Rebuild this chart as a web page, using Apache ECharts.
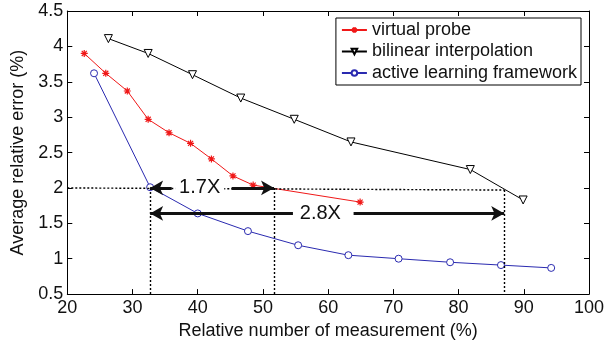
<!DOCTYPE html>
<html><head><meta charset="utf-8">
<script src="https://cdn.jsdelivr.net/npm/echarts@6/dist/echarts.min.js"></script>
<style>html,body{margin:0;padding:0;background:#fff}#c{width:613px;height:345px}</style>
</head><body><div id="c"></div>
<script>
const xTicks = [20,30,40,50,60,70,80,90,100];
const yTicks = [0.5,1,1.5,2,2.5,3,3.5,4,4.5];
const seriesNames = ['virtual probe','bilinear interpolation','active learning framework'];
const vpX = [22.6,25.9,29.2,32.4,35.6,38.9,42.1,45.4,48.5,64.9];
const vpY = [3.90,3.62,3.37,2.97,2.78,2.63,2.41,2.17,2.04,1.80];
const biX = [26.3,32.4,39.2,46.6,54.8,63.5,81.8,89.9];
const biY = [4.11,3.90,3.60,3.27,2.97,2.65,2.26,1.83];
const alX = [24.1,32.7,40.0,47.7,55.4,63.1,70.8,78.7,86.5,94.2];
const alY = [3.62,2.01,1.64,1.39,1.19,1.05,1.00,0.95,0.91,0.87];
// annotation guides (data coordinates)
const guideH = [[20,2.0],[87.0,1.97]];
const guideV = [[32.7,2.0],[51.7,2.0],[87.0,1.97]];
const arrow17 = {y:2.0, from:32.7, to:51.7, gapL:36.0, gapR:45.2, label:'1.7X', labelX:40.3};
const arrow28 = {y:1.64, from:32.7, to:87.0, gapL:54.6, gapR:63.9, label:'2.8X', labelX:58.8};

const FONT = '"Liberation Sans", Arial, Helvetica, sans-serif';
const zip = (a,b)=>a.map((v,i)=>[v,b[i]]);
const starPath = 'path://M0,-5L0,5M-5,0L5,0M-3.6,-3.6L3.6,3.6M-3.6,3.6L3.6,-3.6';

const chart = echarts.init(document.getElementById('c'), null, {renderer:'canvas'});
const axisCommon = {
  axisLine:{show:true,onZero:false,lineStyle:{color:'#000',width:1}},
  axisTick:{show:true,inside:true,length:5,lineStyle:{color:'#000'}},
  splitLine:{show:false}
};
const thick = {color:'#111',width:3,type:'solid'};
const dot = {color:'#000',width:1.4,type:[2,2]};
function arrowLines(a){
  return [
    [{coord:[a.gapL,a.y],symbol:'none',lineStyle:thick},{coord:[a.from,a.y],symbol:'arrow'}],
    [{coord:[a.gapR,a.y],symbol:'none',lineStyle:thick},{coord:[a.to,a.y],symbol:'arrow'}]
  ];
}
const option = {
  animation:false,
  backgroundColor:'#fff',
  textStyle:{fontFamily:FONT},
  grid:{left:67.3,right:24,top:11,bottom:42.7,containLabel:false},
  legend:{
    data:seriesNames, orient:'vertical', right:32, top:18,
    backgroundColor:'#fff', borderColor:'#000', borderWidth:1,
    padding:[3,4,3,5], itemGap:3.5, itemWidth:25, itemHeight:7,
    textStyle:{fontFamily:FONT,fontSize:18,color:'#111',lineHeight:18}
  },
  xAxis:[
    Object.assign({type:'value',min:20,max:100,interval:10,position:'bottom',
      name:'Relative number of measurement (%)',nameLocation:'middle',nameGap:25,
      nameTextStyle:{fontFamily:FONT,fontSize:18,color:'#111'},
      axisLabel:{fontFamily:FONT,fontSize:18,color:'#111',margin:5,
        formatter:v=>xTicks.includes(v)?String(v):''}},axisCommon),
    Object.assign({type:'value',min:20,max:100,interval:10,position:'top',axisLabel:{show:false}},axisCommon)
  ],
  yAxis:[
    Object.assign({type:'value',min:0.5,max:4.5,interval:0.5,position:'left',
      name:'Average relative error (%)',nameLocation:'middle',nameGap:33,
      nameTextStyle:{fontFamily:FONT,fontSize:18,color:'#111'},
      axisLabel:{fontFamily:FONT,fontSize:18,color:'#111',margin:4,
        formatter:v=>yTicks.includes(v)?String(v):''}},axisCommon),
    Object.assign({type:'value',min:0.5,max:4.5,interval:0.5,position:'right',axisLabel:{show:false}},axisCommon)
  ],
  series:[
    {name:'annot',type:'line',data:[],silent:true,z:1,
      markLine:{silent:true,symbol:'none',animation:false,label:{show:false},
        lineStyle:dot,
        data:[
          [{coord:guideH[0]},{coord:guideH[1]}],
          ...guideV.map(p=>[{coord:p},{coord:[p[0],0.5]}])
        ]}},
    {name:seriesNames[0],type:'line',data:zip(vpX,vpY),z:3,
      lineStyle:{color:'#f01818',width:1},itemStyle:{color:'#f01818',borderColor:'#f01818',borderWidth:1.2},
      symbol:starPath,symbolSize:7,showSymbol:true},
    {name:seriesNames[1],type:'line',data:zip(biX,biY),z:3,
      lineStyle:{color:'#000',width:1},itemStyle:{color:'#fff',borderColor:'#000',borderWidth:1},
      symbol:'triangle',symbolRotate:180,symbolSize:8},
    {name:seriesNames[2],type:'line',data:zip(alX,alY),z:3,
      lineStyle:{color:'#2a2ab0',width:1},itemStyle:{color:'#fff',borderColor:'#2a2ab0',borderWidth:1},
      symbol:'circle',symbolSize:7},
    {name:'arrows',type:'line',data:[],silent:true,z:5,
      markLine:{silent:true,animation:false,symbolSize:[11,13],label:{show:false},
        lineStyle:thick,
        data:[...arrowLines(arrow17),...arrowLines(arrow28)]}},
    {name:'labels',type:'scatter',silent:true,z:6,symbolSize:1,
      itemStyle:{opacity:0},
      data:[[arrow17.labelX,arrow17.y,arrow17.label],[arrow28.labelX,arrow28.y,arrow28.label]],
      label:{show:true,position:'inside',formatter:p=>p.data[2],fontFamily:FONT,fontSize:20,
        color:'#111',opacity:1,backgroundColor:'#fff',padding:[1,4,1,4]}}
  ]
};
chart.setOption(option);
</script></body></html>
